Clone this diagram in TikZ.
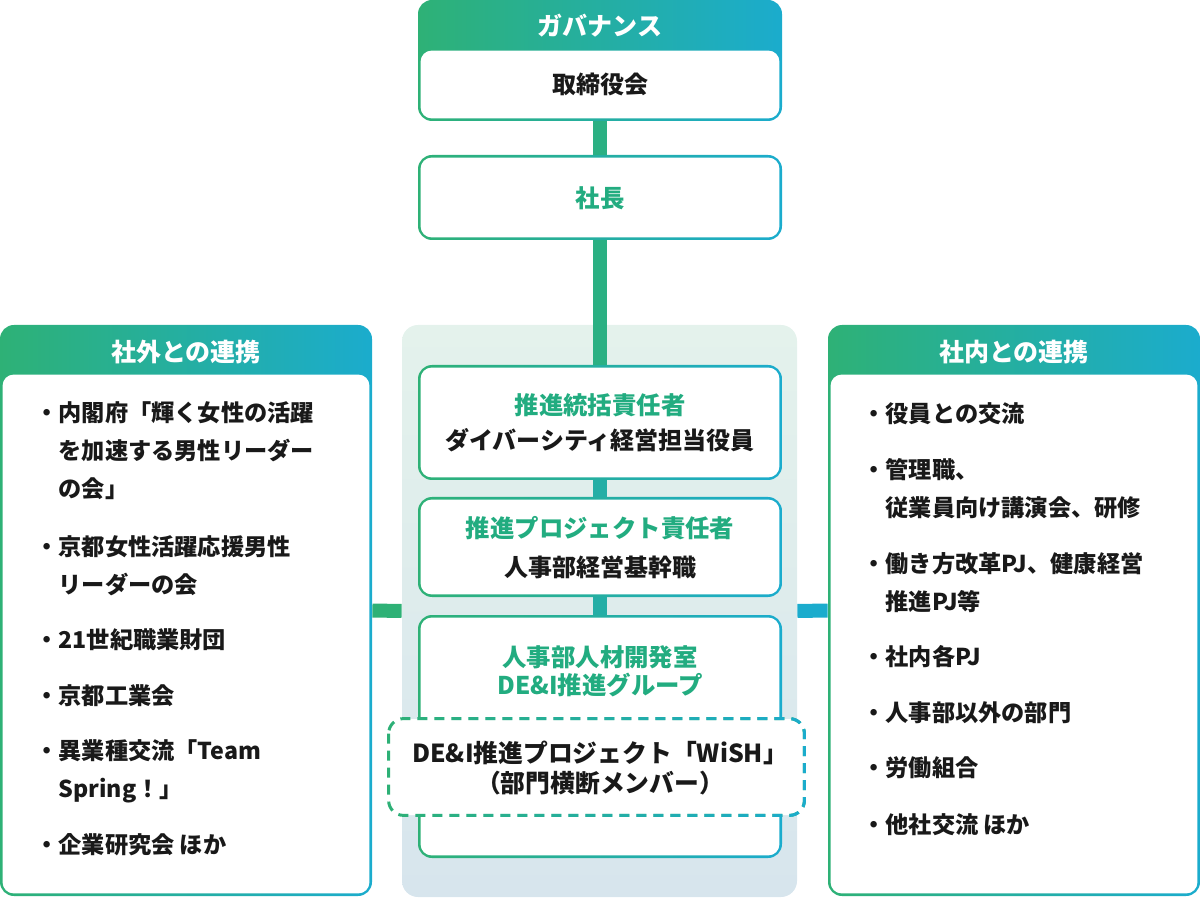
\documentclass[tikz,border=0pt]{standalone}
\usepackage{fontspec}
\setmainfont{Noto Sans CJK JP}
\usepackage{tikz}
\usetikzlibrary{fit,calc,fadings}
\definecolor{dgreen}{RGB}{46,177,118}
\definecolor{dblue}{RGB}{27,172,205}
\definecolor{dtext}{RGB}{34,172,128}
\definecolor{paneltop}{RGB}{228,242,236}
\definecolor{panelbot}{RGB}{215,229,237}
\tikzfading[name=fadeeast, left color=transparent!100, right color=transparent!0]
\tikzset{
  gradbox/.style={inner sep=0, rounded corners=7pt, left color=dgreen, right color=dblue},
  inbox/.style={fill=white, rounded corners=5.5pt},
  panel/.style={inner sep=0, rounded corners=8pt, top color=paneltop, bottom color=panelbot},
  dashbox/.style={line width=1.5pt, dash pattern=on 5pt off 3.5pt, rounded corners=7.5pt},
  headtext/.style={font=\fontsize{12.5}{14}\selectfont\bfseries, text=white},
  maintext/.style={font=\fontsize{12}{15}\selectfont\bfseries, text=black!90, align=center},
  accenttext/.style={font=\fontsize{12.2}{14}\selectfont\bfseries, text=dtext, align=center},
  itemtext/.style={anchor=west, inner sep=0, align=left, text=black!90,
    font=\fontsize{11.6}{19}\selectfont\bfseries},
  trunk/.style={line width=7pt, draw=dgreen!85!dblue},
  trunkin/.style={line width=7pt, draw=dgreen!45!dblue},
}
\begin{document}
\begin{tikzpicture}[x=0.5pt,y=-0.5pt]
  \useasboundingbox (0,0) rectangle (1200,898);
  % Center panel
  \node[panel, fit={(402,325) (797,897)}] (core) {};
  % Side boxes
  \node[gradbox, fit={(0,325) (372,896)}] (ext) {};
  \fill[inbox] ($(ext.north west)+(3,50)$) rectangle ($(ext.south east)+(-3,-3)$);
  \node[gradbox, fit={(828,325) (1200,896)}] (int) {};
  \fill[inbox] ($(int.north west)+(3,50)$) rectangle ($(int.south east)+(-3,-3)$);
  % Chain of boxes
  \node[gradbox, fit={(418,0) (782,121)}] (gov) {};
  \fill[inbox] ($(gov.north west)+(3,51)$) rectangle ($(gov.south east)+(-3,-3)$);
  \node[gradbox, fit={(418,155) (782,240)}] (pres) {};
  \fill[inbox] ($(pres.north west)+(3,3)$) rectangle ($(pres.south east)+(-3,-3)$);
  \node[gradbox, fit={(418,365) (782,480)}] (lead) {};
  \fill[inbox] ($(lead.north west)+(3,3)$) rectangle ($(lead.south east)+(-3,-3)$);
  \node[gradbox, fit={(418,497) (782,597)}] (proj) {};
  \fill[inbox] ($(proj.north west)+(3,3)$) rectangle ($(proj.south east)+(-3,-3)$);
  \node[gradbox, fit={(418,615) (782,858)}] (dev) {};
  \fill[inbox] ($(dev.north west)+(3,3)$) rectangle ($(dev.south east)+(-3,-3)$);
  % Dashed project box
  \node[inner sep=0, rounded corners=7.5pt, fill=white, fit={(389,719) (804,815)}] (wish) {};
  \draw[dashbox, dgreen] (wish.north west) rectangle (wish.south east);
  \draw[dashbox, dblue, path fading=fadeeast] (wish.north west) rectangle (wish.south east);
  % Connectors
  \draw[trunk] (gov.south) -- (pres.north);
  \draw[trunk] (pres.south) -- (lead.north);
  \draw[trunkin] (lead.south) -- (proj.north);
  \draw[trunkin] (proj.south) -- (dev.north);
  \draw[line width=7pt, dgreen] (ext.east) -- (core.west);
  \draw[line width=7pt, dblue] (core.east) -- (int.east -| int.west);
  % Labels
  \node[headtext] (govhead) at (600,26) {ガバナンス};
  \node[maintext] (govname) at (600,84) {取締役会};
  \node[accenttext] (presname) at (600,198) {社長};
  \node[accenttext] (leadrole) at (600,405) {推進統括責任者};
  \node[maintext] (leadname) at (600,440) {ダイバーシティ経営担当役員};
  \node[accenttext] (projrole) at (600,528) {推進プロジェクト責任者};
  \node[maintext] (projname) at (600,567) {人事部経営基幹職};
  \node[accenttext] (devname) at (600,671) {人事部人材開発室\\DE\&I推進グループ};
  \node[maintext, font=\fontsize{12.4}{15}\selectfont\bfseries] (wishname) at (600,768) {DE\&I推進プロジェクト「WiSH」\\（部門横断メンバー）};
  % Outside list
  \node[headtext] (exthead) at (186,352) {社外との連携};
  \node[itemtext] (ext1) at (35,450.5) {・内閣府「輝く女性の活躍\\\hspace{1em}を加速する男性リーダー\\\hspace{1em}の会」};
  \node[itemtext] (ext2) at (35,566) {・京都女性活躍応援男性\\\hspace{1em}リーダーの会};
  \node[itemtext] (ext3) at (35,640) {・21世紀職業財団};
  \node[itemtext] (ext4) at (35,696) {・京都工業会};
  \node[itemtext] (ext5) at (35,771) {・異業種交流「Team\\\hspace{1em}Spring！」};
  \node[itemtext] (ext6) at (35,845) {・企業研究会 ほか};
  % Inside list
  \node[headtext] (inthead) at (1014,352) {社内との連携};
  \node[itemtext] (int1) at (862,414) {・役員との交流};
  \node[itemtext] (int2) at (862,488.5) {・管理職、\\\hspace{1em}従業員向け講演会、研修};
  \node[itemtext] (int3) at (862,582.5) {・働き方改革PJ、健康経営\\\hspace{1em}推進PJ等};
  \node[itemtext] (int4) at (862,657) {・社内各PJ};
  \node[itemtext] (int5) at (862,713) {・人事部以外の部門};
  \node[itemtext] (int6) at (862,768) {・労働組合};
  \node[itemtext] (int7) at (862,825) {・他社交流 ほか};
\end{tikzpicture}
\end{document}
